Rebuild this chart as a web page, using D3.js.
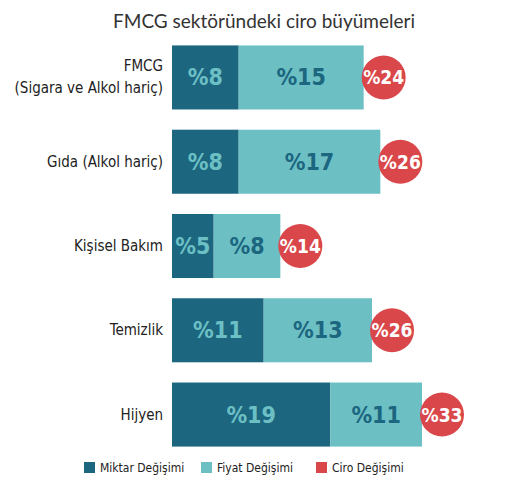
<!DOCTYPE html>
<html><head><meta charset="utf-8">
<script src="https://cdn.jsdelivr.net/npm/d3@7"></script>
<style>body{margin:0;background:#fff;font-family:"DejaVu Sans Condensed","Roboto",sans-serif}</style>
</head><body><svg id="c" width="528" height="486"></svg>
<script>
var categories = [["FMCG", "(Sigara ve Alkol hariç)"], ["Gıda (Alkol hariç)"], ["Kişisel Bakım"], ["Temizlik"], ["Hijyen"]];
var miktar = [8, 8, 5, 11, 19];
var fiyat = [15, 17, 8, 13, 11];
var ciro = [24, 26, 14, 26, 33];
var seriesNames = ["Miktar Değişimi", "Fiyat Değişimi", "Ciro Değişimi"];
var DARK = "#1c6680", LIGHT = "#6cc0c4", RED = "#d9474a";

var svg = d3.select("#c");
var x = d3.scaleLinear().domain([0, 30]).range([172, 422]);
var y = d3.scaleBand().domain(d3.range(categories.length)).range([37, 455]).paddingInner(0.24).paddingOuter(0.1);

svg.append("text").attr("x", 264).attr("y", 28).attr("text-anchor", "middle")
    .style("font-size", "19px").style("fill", "#333").style("font-family", "Lato, sans-serif")
    .text("FMCG sektöründeki ciro büyümeleri");

var row = svg.selectAll("g.row").data(categories).enter().append("g").attr("class", "row");

row.append("rect").attr("x", x(0)).attr("y", function (d, i) { return y(i); })
    .attr("width", function (d, i) { return x(miktar[i]) - x(0); }).attr("height", y.bandwidth()).style("fill", DARK);
row.append("rect").attr("x", function (d, i) { return x(miktar[i]); }).attr("y", function (d, i) { return y(i); })
    .attr("width", function (d, i) { return x(fiyat[i]) - x(0); }).attr("height", y.bandwidth()).style("fill", LIGHT);

row.append("text").attr("x", function (d, i) { return (x(0) + x(miktar[i])) / 2; })
    .attr("y", function (d, i) { return y(i) + y.bandwidth() / 2 + 8; }).attr("text-anchor", "middle")
    .style("font-size", "23px").style("font-weight", "bold").style("fill", LIGHT)
    .text(function (d, i) { return "%" + miktar[i]; });
row.append("text").attr("x", function (d, i) { return x(miktar[i]) + (x(fiyat[i]) - x(0)) / 2; })
    .attr("y", function (d, i) { return y(i) + y.bandwidth() / 2 + 8; }).attr("text-anchor", "middle")
    .style("font-size", "23px").style("font-weight", "bold").style("fill", DARK)
    .text(function (d, i) { return "%" + fiyat[i]; });

function endX(i) { return x(miktar[i] + fiyat[i]) + 20; }
row.append("circle").attr("cx", function (d, i) { return endX(i); })
    .attr("cy", function (d, i) { return y(i) + y.bandwidth() / 2; }).attr("r", 22).style("fill", RED);
row.append("text").attr("x", function (d, i) { return endX(i); })
    .attr("y", function (d, i) { return y(i) + y.bandwidth() / 2 + 7; }).attr("text-anchor", "middle")
    .style("font-size", "19px").style("font-weight", "bold").style("fill", "#fff")
    .text(function (d, i) { return "%" + ciro[i]; });

row.each(function (d, i) {
    var t = d3.select(this).append("text").attr("text-anchor", "end").style("font-size", "15px").style("fill", "#222");
    var cy = y(i) + y.bandwidth() / 2;
    d.forEach(function (line, k) {
        t.append("tspan").attr("x", 163).attr("y", cy + 5 + (k - (d.length - 1) / 2) * 22).text(line);
    });
});

var legendX = [84, 201, 316];
var lg = svg.selectAll("g.lg").data(seriesNames).enter().append("g").attr("class", "lg");
lg.append("rect").attr("x", function (d, i) { return legendX[i]; }).attr("y", 462).attr("width", 11).attr("height", 11)
    .style("fill", function (d, i) { return [DARK, LIGHT, RED][i]; });
lg.append("text").attr("x", function (d, i) { return legendX[i] + 16; }).attr("y", 472)
    .style("font-size", "12px").style("fill", "#222").text(function (d) { return d; });
</script></body></html>
